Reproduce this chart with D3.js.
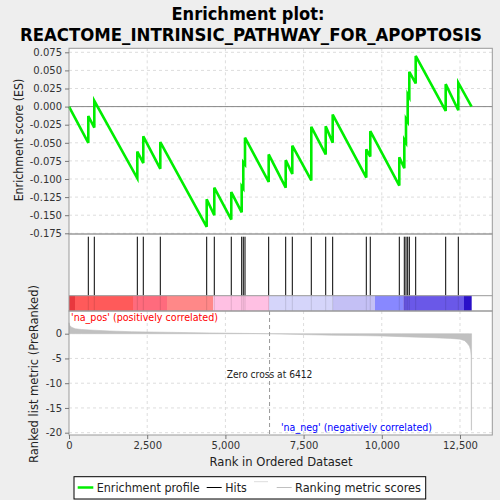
<!DOCTYPE html>
<html>
<head>
<meta charset="utf-8">
<script src="https://cdn.jsdelivr.net/npm/d3@7"></script>
<style>
  body { margin: 0; background: #eeeeee; }
  svg { display: block; }
  text { font-family: "DejaVu Sans", sans-serif; }
</style>
</head>
<body>
<svg id="chart" width="500" height="500"></svg>
<script>
// ranks of the gene set members (hits) in the ordered list
var hitRanks = [617, 809, 2184, 2375, 2919, 4402, 4645, 5188, 5521, 5572, 5627, 6384, 6928, 7139,
                7746, 8207, 8430, 9505, 9632, 10560, 10720, 10774, 10828, 10880, 11084, 12043, 12446];
// running enrichment score just before and just after each hit
var esBefore = [-0.050, -0.029, -0.099, -0.078, -0.086, -0.166, -0.150, -0.156, -0.146, -0.113, -0.080, -0.104, -0.112, -0.093,
                -0.102, -0.066, -0.050, -0.098, -0.069, -0.109, -0.085, -0.050, -0.021, 0.013, 0.032, -0.006, -0.005];
var esAfter  = [-0.013, 0.008, -0.062, -0.041, -0.049, -0.128, -0.112, -0.118, -0.110, -0.077, -0.043, -0.066, -0.074, -0.054,
                -0.028, -0.027, -0.011, -0.059, -0.034, -0.070, -0.046, -0.017, 0.017, 0.048, 0.070, 0.031, 0.033];
var nGenes = 12870;
var zeroCross = 6412;

// ranked list metric
var metricRanks  = [0, 20, 80, 200, 400, 800, 1300, 2000, 3000, 4500, 5500, 6412, 7500, 8400, 9300, 10000, 10640,
                    11640, 12200, 12500, 12650, 12725, 12800, 12840, 12858, 12862, 12870];
var metricValues = [2.2, 1.7, 1.3, 1.0, 0.85, 0.7, 0.55, 0.4, 0.3, 0.15, 0.07, 0, -0.18, -0.3, -0.38, -0.45, -0.6,
                    -0.8, -0.95, -1.1, -1.4, -1.9, -2.5, -3.3, -4.5, -19.5, -19.5];

// colour bar blocks
var barStarts = [0, 192, 2046, 3133, 4613, 6394, 8430, 9783, 10688, 12628];
var barEnds   = [192, 2046, 3133, 4613, 6394, 8430, 9783, 10688, 12628, 12874];
var barColors = ["#e8383e", "#ff5a5a", "#ff6b7d", "#ff8888", "#ffc0e3", "#d5d5fa", "#c4c0f5", "#8888ff", "#6a58e8", "#2a10c8"];

var esTicks = [0.075, 0.05, 0.025, 0, -0.025, -0.05, -0.075, -0.1, -0.125, -0.15, -0.175];
var metricTicks = [0, -5, -10, -15, -20];
var rankTicks = [0, 2500, 5000, 7500, 10000, 12500];

var svg = d3.select("#chart");
var left = 69, right = 492.3;
var esTop = 48.3, esBottom = 234;
var hitTop = 234, barTop = 295.7, barBottom = 311;
var mTop = 311, mBottom = 435;

var x = d3.scaleLinear().domain([0, 13533]).range([left, right]);
var yES = d3.scaleLinear().domain([-0.175, 0.075]).range([233.3, 52.3]);
var yM = d3.scaleLinear().domain([-20, 0]).range([432.7, 333.7]);

function label(px, py, str, size, width, color) {
  return svg.append("text").attr("x", px).attr("y", py)
    .style("font-size", size + "px").attr("fill", color || "#222")
    .attr("textLength", width).attr("lengthAdjust", "spacingAndGlyphs")
    .text(str);
}

// title
label(248, 20, "Enrichment plot:", 18.5, 153, "#000").attr("text-anchor", "middle").style("font-weight", "bold");
label(251, 40.5, "REACTOME_INTRINSIC_PATHWAY_FOR_APOPTOSIS", 18.5, 462, "#000")
  .attr("text-anchor", "middle").style("font-weight", "bold");

// panel backgrounds
svg.append("rect").attr("x", left).attr("y", esTop).attr("width", right - left).attr("height", mBottom - esTop)
  .attr("fill", "white");

// grid lines top panel
svg.append("g").selectAll("line").data(esTicks).join("line")
  .attr("x1", left).attr("x2", right).attr("y1", d => yES(d)).attr("y2", d => yES(d))
  .attr("stroke", "#dddddd").attr("stroke-dasharray", "3,3");
svg.append("g").selectAll("line").data(rankTicks.slice(1)).join("line")
  .attr("x1", d => x(d)).attr("x2", d => x(d)).attr("y1", esTop).attr("y2", esBottom)
  .attr("stroke", "#dddddd").attr("stroke-dasharray", "3,3");
// grid lines bottom panel
svg.append("g").selectAll("line").data(metricTicks.slice(1)).join("line")
  .attr("x1", left).attr("x2", right).attr("y1", d => yM(d)).attr("y2", d => yM(d))
  .attr("stroke", "#dddddd").attr("stroke-dasharray", "3,3");
svg.append("g").selectAll("line").data(rankTicks.slice(1)).join("line")
  .attr("x1", d => x(d)).attr("x2", d => x(d)).attr("y1", mTop).attr("y2", mBottom)
  .attr("stroke", "#dddddd").attr("stroke-dasharray", "3,3");

// zero line ES
svg.append("line").attr("x1", left).attr("x2", right).attr("y1", yES(0)).attr("y2", yES(0))
  .attr("stroke", "#888888").attr("stroke-width", 1);

// enrichment profile
var esPts = [[0, 0]];
hitRanks.forEach(function(r, i) {
  esPts.push([r, esBefore[i]]);
  esPts.push([r, esAfter[i]]);
});
esPts.push([nGenes, 0]);
svg.append("path").datum(esPts)
  .attr("d", d3.line().x(d => x(d[0])).y(d => yES(d[1])))
  .attr("fill", "none").attr("stroke", "#00ee00").attr("stroke-width", 2.6);

// hits
svg.append("g").selectAll("line").data(hitRanks).join("line")
  .attr("x1", d => x(d)).attr("x2", d => x(d)).attr("y1", hitTop + 2.7).attr("y2", barTop)
  .attr("stroke", "black").attr("stroke-width", 1);

// colour bar
svg.append("g").selectAll("rect").data(barStarts).join("rect")
  .attr("x", (d, i) => x(d)).attr("width", (d, i) => x(barEnds[i]) - x(d))
  .attr("y", barTop).attr("height", barBottom - barTop)
  .attr("fill", (d, i) => barColors[i]);
svg.append("g").selectAll("line").data(hitRanks).join("line")
  .attr("x1", d => x(d)).attr("x2", d => x(d)).attr("y1", barTop).attr("y2", barBottom)
  .attr("stroke", "black").attr("stroke-opacity", 0.12);

// ranked metric area
var mPts = metricRanks.map((r, i) => [r, metricValues[i]]);
svg.append("path").datum(mPts)
  .attr("d", d3.area().x(d => x(d[0])).y0(yM(0)).y1(d => yM(d[1])))
  .attr("fill", "#c0c0c0").attr("stroke", "#c0c0c0").attr("stroke-width", 0.6);

// zero cross
svg.append("line").attr("x1", x(zeroCross)).attr("x2", x(zeroCross)).attr("y1", mTop).attr("y2", mBottom)
  .attr("stroke", "#999999").attr("stroke-dasharray", "4,3");
label(x(zeroCross), 377.5, "Zero cross at " + zeroCross, 10, 85.6).attr("text-anchor", "middle");
label(71, 320.5, "'na_pos' (positively correlated)", 10.5, 147, "#ff0000");
label(281, 431, "'na_neg' (negatively correlated)", 10.5, 151, "#0000ff");

// panel borders
[[esTop, esBottom], [hitTop, barBottom], [mTop, mBottom]].forEach(function(p) {
  svg.append("rect").attr("x", left).attr("y", p[0]).attr("width", right - left).attr("height", p[1] - p[0])
    .attr("fill", "none").attr("stroke", "#999999").attr("stroke-width", 1);
});
svg.append("line").attr("x1", left).attr("x2", right).attr("y1", barTop).attr("y2", barTop)
  .attr("stroke", "#999999");

// axes
var fmtES = d => d3.format(".3f")(d).replace("\u2212", "-");
var gES = svg.append("g").attr("transform", "translate(" + left + ",0)")
  .call(d3.axisLeft(yES).tickValues(esTicks).tickFormat(fmtES).tickSize(4));
var gM = svg.append("g").attr("transform", "translate(" + left + ",0)")
  .call(d3.axisLeft(yM).tickValues(metricTicks).tickFormat(d => String(d).replace("\u2212", "-")).tickSize(4));
var gX = svg.append("g").attr("transform", "translate(0," + mBottom + ")")
  .call(d3.axisBottom(x).tickValues(rankTicks).tickFormat(d3.format(",")).tickSize(4));
[gES, gM, gX].forEach(function(g) {
  g.select(".domain").remove();
  g.selectAll(".tick line").attr("stroke", "#777");
  g.selectAll(".tick text").style("font-size", "10px").attr("fill", "#333")
    .style("font-family", "DejaVu Sans, sans-serif");
});

// axis titles
label(0, 0, "Enrichment score (ES)", 12.5, 122.7).attr("transform", "translate(23,140) rotate(-90)")
  .attr("text-anchor", "middle");
label(0, 0, "Ranked list metric (PreRanked)", 12.5, 178).attr("transform", "translate(38,374) rotate(-90)")
  .attr("text-anchor", "middle");
label(281, 466, "Rank in Ordered Dataset", 12.5, 143).attr("text-anchor", "middle");

// legend
var lg = svg.append("g");
lg.append("rect").attr("x", 74).attr("y", 476.7).attr("width", 351.7).attr("height", 22.3)
  .attr("fill", "white").attr("stroke", "#000").attr("stroke-width", 1);
lg.append("line").attr("x1", 77.7).attr("x2", 93.3).attr("y1", 487.5).attr("y2", 487.5)
  .attr("stroke", "#00ee00").attr("stroke-width", 2.5);
label(96.7, 492, "Enrichment profile", 12, 103);
lg.append("line").attr("x1", 206.7).attr("x2", 221.7).attr("y1", 487.5).attr("y2", 487.5)
  .attr("stroke", "black").attr("stroke-width", 1);
label(225.3, 492, "Hits", 12, 21.4);
lg.append("line").attr("x1", 254).attr("x2", 268).attr("y1", 481.7).attr("y2", 481.7)
  .attr("stroke", "#dddddd").attr("stroke-width", 1);
lg.append("line").attr("x1", 276.7).attr("x2", 291.7).attr("y1", 487.5).attr("y2", 487.5)
  .attr("stroke", "#c0c0c0").attr("stroke-width", 1);
label(295, 492, "Ranking metric scores", 12, 126);
</script>
</body>
</html>
